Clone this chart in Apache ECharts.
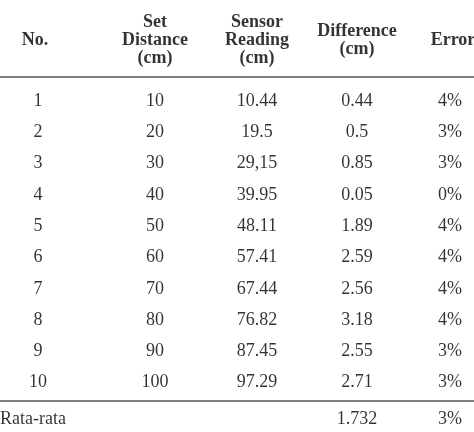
<!DOCTYPE html><html><head><meta charset="utf-8">
<script src="https://cdn.jsdelivr.net/npm/echarts@6/dist/echarts.min.js"></script>
<style>html,body{margin:0;padding:0;background:#fff}#c{width:474px;height:432px}</style></head><body><div id="c"></div>
<script>
const headers = ["No.", "Set\nDistance\n(cm)", "Sensor\nReading\n(cm)", "Difference\n(cm)", "Error"];
const noCol = ["1","2","3","4","5","6","7","8","9","10"];
const setDistance = ["10","20","30","40","50","60","70","80","90","100"];
const sensorReading = ["10.44","19.5","29,15","39.95","48.11","57.41","67.44","76.82","87.45","97.29"];
const difference = ["0.44","0.5","0.85","0.05","1.89","2.59","2.56","3.18","2.55","2.71"];
const errorPct = ["4%","3%","3%","0%","4%","4%","4%","4%","3%","3%"];
const avgLabel = "Rata-rata", avgDiff = "1.732", avgErr = "3%";

const colX = [38, 155, 257, 357, 450];
const rowY0 = 101, rowStep = 31.3, headY = 40, avgY = 419;
const cols = [noCol, setDistance, sensorReading, difference, errorPct];
const body = [];
cols.forEach((c, ci) => c.forEach((v, ri) => body.push([colX[ci], rowY0 + ri * rowStep, v])));
const head = headers.map((h, i) => [i === 0 ? 35 : (i === 4 ? 453 : colX[i]), headY, h]);
const avg = [[colX[3], avgY, avgDiff], [colX[4], avgY, avgErr]];
const font = "Liberation Serif";
const lbl = (bold) => ({show: true, position: 'inside', formatter: p => p.data[2], color: '#000',
  fontFamily: font, fontSize: 18, fontWeight: bold ? 'bold' : 'normal', lineHeight: 18, align: 'center', verticalAlign: 'middle'});
const chart = echarts.init(document.getElementById('c'));
chart.setOption({
  animation: false,
  grid: {left: 0, right: 0, top: 0, bottom: 0},
  xAxis: {type: 'value', min: 0, max: 474, show: false},
  yAxis: {type: 'value', min: 0, max: 432, inverse: true, show: false},
  series: [
    {type: 'scatter', symbolSize: 0, data: head, label: lbl(true)},
    {type: 'scatter', symbolSize: 0, data: body, label: lbl(false)},
    {type: 'scatter', symbolSize: 0, data: avg, label: lbl(false)},
    {type: 'scatter', symbolSize: 0, data: [[0, avgY, avgLabel]], label: Object.assign(lbl(false), {align: 'left'})}
  ],
  graphic: [
    {type: 'line', shape: {x1: 0, y1: 77, x2: 474, y2: 77}, style: {stroke: '#000', lineWidth: 1}},
    {type: 'line', shape: {x1: 0, y1: 401, x2: 474, y2: 401}, style: {stroke: '#000', lineWidth: 1}}
  ]
});
</script></body></html>
